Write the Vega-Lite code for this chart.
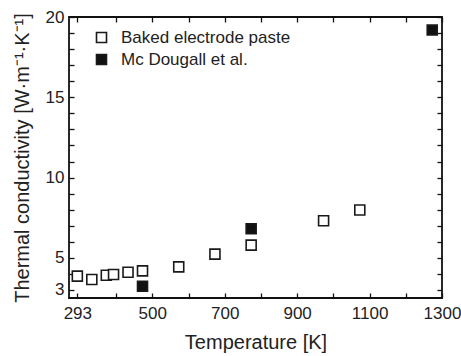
{
  "$schema": "https://vega.github.io/schema/vega-lite/v6.json",
  "autosize": {"type": "none"},
  "padding": {"left": 69, "top": 17, "right": 19, "bottom": 58},
  "width": 373,
  "height": 281,
  "config": {
    "font": "Liberation Sans",
    "view": {"stroke": "#111", "strokeWidth": 1.8},
    "axis": {"domain": false, "grid": false, "tickColor": "#111", "tickWidth": 1.3, "labelColor": "#222", "titleColor": "#222", "labelFontSize": 17, "titleFontSize": 20, "titleFontWeight": "normal", "labelFont": "Liberation Sans", "titleFont": "Liberation Sans", "labelFlush": false, "labelOverlap": false}
  },
  "data": {"values": [
    {"T": 293, "k": 3.86, "series": "Baked electrode paste"},
    {"T": 333, "k": 3.65, "series": "Baked electrode paste"},
    {"T": 373, "k": 3.92, "series": "Baked electrode paste"},
    {"T": 393, "k": 3.96, "series": "Baked electrode paste"},
    {"T": 433, "k": 4.1, "series": "Baked electrode paste"},
    {"T": 473, "k": 4.19, "series": "Baked electrode paste"},
    {"T": 573, "k": 4.44, "series": "Baked electrode paste"},
    {"T": 673, "k": 5.23, "series": "Baked electrode paste"},
    {"T": 773, "k": 5.79, "series": "Baked electrode paste"},
    {"T": 973, "k": 7.31, "series": "Baked electrode paste"},
    {"T": 1073, "k": 7.98, "series": "Baked electrode paste"},
    {"T": 473, "k": 3.23, "series": "Mc Dougall et al."},
    {"T": 773, "k": 6.81, "series": "Mc Dougall et al."},
    {"T": 1273, "k": 19.19, "series": "Mc Dougall et al."}
  ]},
  "resolve": {"axis": {"x": "independent", "y": "independent"}},
  "layer": [
    {
      "mark": {"type": "point", "shape": "square", "size": 100, "filled": false, "strokeWidth": 1.6, "opacity": 1},
      "encoding": {
        "x": {"field": "T", "type": "quantitative", "scale": {"domain": [270, 1300], "nice": false, "zero": false},
          "axis": {"orient": "bottom", "title": "Temperature [K]", "format": "d", "values": [293, 400, 500, 600, 700, 800, 900, 1000, 1100, 1200, 1300], "tickSize": -5, "labelPadding": 12, "titlePadding": 11,
            "labelExpr": "indexof([293,500,700,900,1100,1300], datum.value) >= 0 ? datum.label : ''"}},
        "y": {"field": "k", "type": "quantitative", "scale": {"domain": [2.5, 20], "nice": false, "zero": false},
          "axis": {"orient": "left", "title": "Thermal conductivity [W·m⁻¹·K⁻¹]", "values": [3,4,5,6,7,8,9,10,11,12,13,14,15,16,17,18,19,20], "tickSize": -5, "labelPadding": 10, "titlePadding": 13,
            "labelExpr": "indexof([3,5,10,15,20], datum.value) >= 0 ? datum.label : ''"}},
        "stroke": {"value": "#1a1a1a"},
        "fill": {"field": "series", "type": "nominal", "scale": {"domain": ["Baked electrode paste", "Mc Dougall et al."], "range": ["#ffffff", "#111111"]},
          "legend": {"title": null, "orient": "none", "legendX": 24, "legendY": 12, "symbolType": "square", "symbolSize": 100, "symbolStrokeColor": "#1a1a1a", "symbolStrokeWidth": 1.6, "labelFontSize": 17, "labelLimit": 400, "labelColor": "#222", "labelFont": "Liberation Sans", "labelOffset": 11, "rowPadding": 4}}
      }
    },
    {
      "mark": {"type": "point", "shape": "square", "size": 100, "opacity": 0},
      "encoding": {
        "x": {"field": "T", "type": "quantitative", "axis": {"orient": "top", "title": null, "labels": false, "values": [293, 400, 500, 600, 700, 800, 900, 1000, 1100, 1200, 1300], "tickSize": -5}},
        "y": {"field": "k", "type": "quantitative", "axis": {"orient": "right", "title": null, "labels": false, "values": [3,4,5,6,7,8,9,10,11,12,13,14,15,16,17,18,19,20], "tickSize": -5}}
      }
    }
  ]
}
